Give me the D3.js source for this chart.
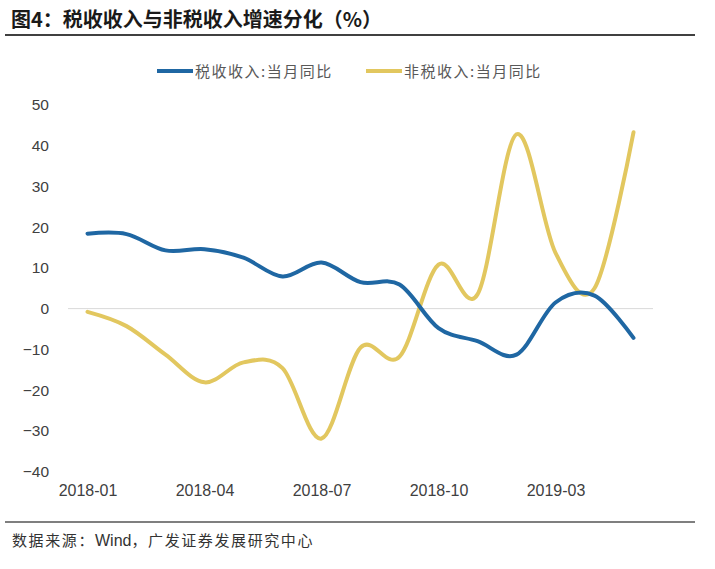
<!DOCTYPE html>
<html><head><meta charset="utf-8">
<script src="https://cdn.jsdelivr.net/npm/d3@7"></script>
<style>
body{margin:0;background:#fff;}
svg{display:block;}
</style></head>
<body>
<svg id="c" width="715" height="569"></svg>
<script>
const categories = ["2018-01","2018-02","2018-03","2018-04","2018-05","2018-06","2018-07","2018-08","2018-09","2018-10","2018-11","2018-12","2019-03","2019-04","2019-05"];
const tickLabels = ["2018-01","2018-04","2018-07","2018-10","2019-03"];
const taxValues = [18.4, 18.3, 14.3, 14.6, 12.5, 7.9, 11.3, 6.5, 5.9, -4.8, -8.0, -11.3, 1.5, 3.2, -7.2];
const nonTaxValues = [-0.8, -4.3, -11.3, -18.1, -13.2, -14.6, -31.9, -9.6, -11.8, 10.8, 3.5, 42.8, 13.7, 5.0, 43.3];
const seriesNames = ["税收收入:当月同比", "非税收入:当月同比"];
const yTicks = [50, 40, 30, 20, 10, 0, -10, -20, -30, -40];

const svg = d3.select("#c");
const x = d3.scalePoint().domain(categories).range([68, 653]).padding(0.5);
const y = d3.scaleLinear().domain([-40, 50]).range([471.5, 105]);

// title
svg.append("text").attr("x", 11).attr("y", 27)
  .attr("font-family", "'Noto Sans CJK SC', sans-serif").attr("font-weight", "bold")
  .attr("font-size", 20).attr("fill", "#1a1a1a").text("图4：税收收入与非税收入增速分化（%）");
svg.append("line").attr("x1", 5).attr("x2", 695).attr("y1", 35).attr("y2", 35)
  .attr("stroke", "#000").attr("stroke-width", 1.5);

// zero line
svg.append("line").attr("x1", 68).attr("x2", 653).attr("y1", y(0)).attr("y2", y(0))
  .attr("stroke", "#d9d9d9").attr("stroke-width", 1);

// y axis
const yAxis = d3.axisLeft(y).tickValues(yTicks).tickSize(0).tickPadding(0);
const gy = svg.append("g").attr("transform", "translate(49,0)").call(yAxis);
gy.select(".domain").remove();
gy.selectAll("text").attr("font-family", "'Liberation Sans', Arial, sans-serif")
  .attr("font-size", 15.5).attr("fill", "#404040");

// x axis
const xAxis = d3.axisBottom(x).tickValues(tickLabels).tickSize(0).tickPadding(0);
const gx = svg.append("g").attr("transform", "translate(0,485)").call(xAxis);
gx.select(".domain").remove();
gx.selectAll("text").attr("font-family", "'Liberation Sans', Arial, sans-serif")
  .attr("font-size", 16).attr("fill", "#404040");

const colors = ["#1F67A3", "#E2C75F"];
const line = d3.line().x((d, i) => x(categories[i])).y(d => y(d)).curve(d3.curveCardinal.tension(0));
svg.append("path").datum(nonTaxValues).attr("d", line).attr("fill", "none")
  .attr("stroke", colors[1]).attr("stroke-width", 4).attr("stroke-linecap", "round");
svg.append("path").datum(taxValues).attr("d", line).attr("fill", "none")
  .attr("stroke", colors[0]).attr("stroke-width", 4).attr("stroke-linecap", "round");

// legend
const leg = [{x: 157, c: colors[0], t: seriesNames[0]}, {x: 366, c: colors[1], t: seriesNames[1]}];
leg.forEach(l => {
  svg.append("line").attr("x1", l.x).attr("x2", l.x + 36).attr("y1", 71).attr("y2", 71)
    .attr("stroke", l.c).attr("stroke-width", 4);
  svg.append("text").attr("x", l.x + 38).attr("y", 77)
    .attr("font-family", "'Noto Sans CJK SC', sans-serif").attr("font-size", 15)
    .attr("letter-spacing", 1.5)
    .attr("fill", "#595959").text(l.t);
});

// source
svg.append("line").attr("x1", 5).attr("x2", 695).attr("y1", 522).attr("y2", 522)
  .attr("stroke", "#000").attr("stroke-width", 1.2);
const src = svg.append("text").attr("x", 12).attr("y", 546)
  .attr("font-family", "'Noto Sans CJK SC', sans-serif").attr("font-size", 15)
  .attr("fill", "#333");
src.append("tspan").attr("letter-spacing", 1.6).text("数据来源：");
src.append("tspan").attr("font-family", "'Liberation Sans', Arial, sans-serif").attr("font-size", 16).text("Wind");
src.append("tspan").attr("letter-spacing", 1.6).text("，广发证券发展研究中心");
</script>
</body></html>
